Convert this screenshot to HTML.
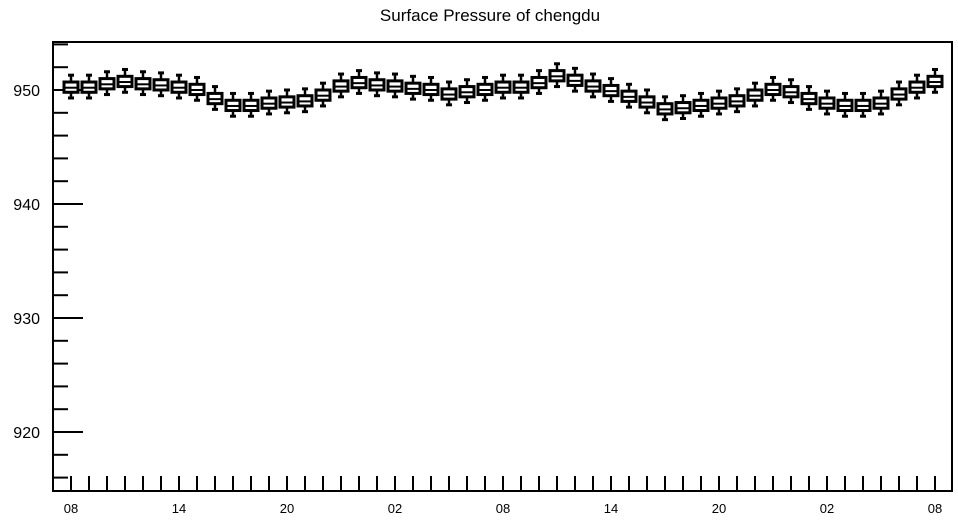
<!DOCTYPE html>
<html><head><meta charset="utf-8"><style>
body{margin:0;background:#fff;}
svg{display:block;font-family:"Liberation Sans",sans-serif;}
</style></head><body>
<svg id="chart" width="958" height="520">
<text x="490" y="21" font-size="17" text-anchor="middle">Surface Pressure of chengdu</text>
<g id="axes"></g>
<g id="boxes"></g>
</svg>
<script>
const xLabels=["08","14","20","02","08","14","20","02","08"];
const yTicks=[920,930,940,950];
const med=[950.2,950.2,950.5,950.7,950.5,950.4,950.2,950.0,949.2,948.6,948.6,948.8,948.9,949.0,949.5,950.3,950.6,950.4,950.3,950.1,950.0,949.6,949.8,950.0,950.2,950.2,950.6,951.2,950.8,950.3,949.9,949.4,948.9,948.3,948.4,948.6,948.8,949.0,949.5,950.0,949.8,949.2,948.8,948.6,948.6,948.8,949.6,950.2,950.7];
const q3=[950.7,950.7,951.0,951.2,951.0,950.9,950.7,950.5,949.7,949.1,949.1,949.3,949.4,949.5,950.0,950.8,951.1,950.9,950.8,950.6,950.5,950.1,950.3,950.5,950.7,950.7,951.1,951.7,951.3,950.8,950.4,949.9,949.4,948.8,948.9,949.1,949.3,949.5,950.0,950.5,950.3,949.7,949.3,949.1,949.1,949.3,950.1,950.7,951.2];
const q1=[949.8,949.8,950.1,950.3,950.1,950.0,949.8,949.6,948.8,948.2,948.2,948.4,948.5,948.6,949.1,949.9,950.2,950.0,949.9,949.7,949.6,949.2,949.4,949.6,949.8,949.8,950.2,950.8,950.4,949.9,949.5,949.0,948.5,947.9,948.0,948.2,948.4,948.6,949.1,949.6,949.4,948.8,948.4,948.2,948.2,948.4,949.2,949.8,950.3];
const hi=[951.3,951.3,951.6,951.8,951.6,951.5,951.3,951.1,950.3,949.7,949.7,949.9,950.0,950.1,950.6,951.4,951.7,951.5,951.4,951.2,951.1,950.7,950.9,951.1,951.3,951.3,951.7,952.3,951.9,951.4,951.0,950.5,950.0,949.4,949.5,949.7,949.9,950.1,950.6,951.1,950.9,950.3,949.9,949.7,949.7,949.9,950.7,951.3,951.8];
const lo=[949.3,949.3,949.6,949.8,949.6,949.5,949.3,949.1,948.3,947.7,947.7,947.9,948.0,948.1,948.6,949.4,949.7,949.5,949.4,949.2,949.1,948.7,948.9,949.1,949.3,949.3,949.7,950.3,949.9,949.4,949.0,948.5,948.0,947.4,947.5,947.7,947.9,948.1,948.6,949.1,948.9,948.3,947.9,947.7,947.7,947.9,948.7,949.3,949.8];

const L=53,R=952,T=42,B=491;
const yMin=950-(B-90)/11.4, yMax=950+(90-T)/11.4;
const yS=v=>B-(v-yMin)/(yMax-yMin)*(B-T);
const x0=71,step=18;
const xS=i=>x0+i*step;
const NS="http://www.w3.org/2000/svg";
function mk(tag,attrs,parent){const e=document.createElementNS(NS,tag);for(const k in attrs)e.setAttribute(k,attrs[k]);parent.appendChild(e);return e;}
const ax=document.getElementById('axes');
const frame=mk('rect',{x:L,y:T,width:R-L,height:B-T,fill:'none',stroke:'#000','stroke-width':2},ax);


// y ticks: minor every 2 units
for(let v=Math.ceil(yMin/2)*2; v<=yMax; v+=2){
  const major=v%10===0;
  const t=mk('line',{x1:L,x2:L+(major?30:15),y1:yS(v),y2:yS(v),stroke:'#000','stroke-width':2},ax);
  
  
}
yTicks.forEach(v=>{
  const t=mk('text',{x:40,y:yS(v)+6,'font-size':16,'text-anchor':'end'},ax);
  t.textContent=v;
  
  
});
for(let i=0;i<med.length;i++){
  const t=mk('line',{x1:xS(i),x2:xS(i),y1:B-15,y2:B,stroke:'#000','stroke-width':2},ax);
  
  
}
xLabels.forEach((s,k)=>{
  const t=mk('text',{x:xS(k*6),y:513,'font-size':13,'text-anchor':'middle'},ax);
  t.textContent=s;
  
  
});
const bx=document.getElementById('boxes');
for(let i=0;i<med.length;i++){
  const g=mk('g',{},bx);
  
  
  const x=xS(i);
  mk('line',{x1:x,x2:x,y1:yS(hi[i]),y2:yS(lo[i]),stroke:'#000','stroke-width':2.5},g);
  mk('line',{x1:x-3,x2:x+3,y1:yS(hi[i]),y2:yS(hi[i]),stroke:'#000','stroke-width':3},g);
  mk('line',{x1:x-3,x2:x+3,y1:yS(lo[i]),y2:yS(lo[i]),stroke:'#000','stroke-width':3},g);
  mk('rect',{x:x-7,y:yS(q3[i]),width:14,height:yS(q1[i])-yS(q3[i]),fill:'#fff',stroke:'#000','stroke-width':3},g);
  mk('line',{x1:x-7,x2:x+7,y1:yS(med[i]),y2:yS(med[i]),stroke:'#000','stroke-width':2},g);
}
</script>
</body></html>
